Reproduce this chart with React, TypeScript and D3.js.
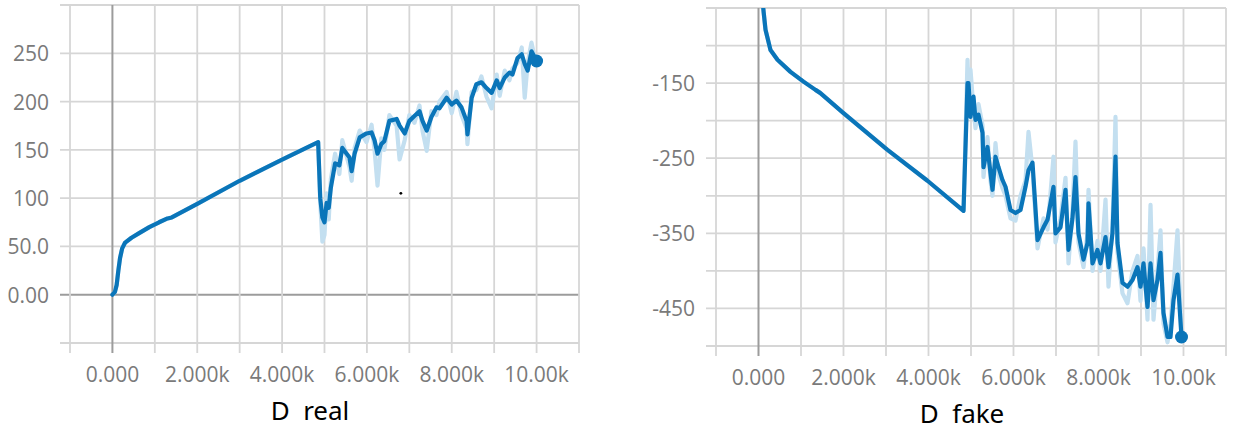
import React from "react";
import * as d3 from "d3";

// ---------- data ----------
const xTickValues = [0, 2000, 4000, 6000, 8000, 10000];
const xTickLabels = ["0.000", "2.000k", "4.000k", "6.000k", "8.000k", "10.00k"];

const realYTicks = [0, 50, 100, 150, 200, 250];
const realYLabels = ["0.00", "50.0", "100", "150", "200", "250"];
const fakeYTicks = [-150, -250, -350, -450];
const fakeYLabels = ["-150", "-250", "-350", "-450"];

const realSteps = [0, 60, 100, 140, 180, 230, 300, 450, 640, 870, 1100, 1300, 1400, 2000, 3000, 4000, 4850,
  4900, 4950, 5000, 5050, 5100, 5150, 5250, 5350, 5420, 5590,
  5640, 5710, 5830, 5990, 6110, 6180, 6250, 6340, 6410, 6530,
  6700, 6770, 6890, 7000, 7120, 7240, 7310, 7410, 7520, 7640,
  7710, 7880, 8000, 8110, 8230, 8350, 8370, 8470, 8580, 8700,
  8820, 8940, 9060, 9130, 9250, 9360, 9430, 9550, 9650, 9720,
  9790, 9880, 10000];
const realSmooth = [0, 3, 10, 25, 38, 48, 54, 59, 64, 70, 75, 79, 80, 94, 118, 140, 158,
  100, 80, 75, 95, 90, 111, 136, 134, 152, 142,
  128, 146, 163, 167, 168, 160, 146, 156, 159, 180,
  182, 175, 167, 180, 185, 190, 180, 170, 184, 194,
  193, 204, 197, 201, 194, 180, 166, 204, 218, 220,
  214, 209, 222, 214, 225, 230, 228, 245, 249, 239,
  232, 252, 242];
const realRaw = [0, 3, 10, 25, 38, 48, 54, 59, 64, 70, 75, 79, 80, 94, 118, 140, 158,
  95, 55, 62, 105, 78, 120, 146, 125, 160, 132,
  118, 152, 170, 158, 176, 150, 113, 162, 150, 186,
  175, 140, 160, 186, 178, 196, 170, 149, 190, 186,
  200, 210, 188, 210, 186, 172, 156, 210, 212, 226,
  205, 193, 228, 206, 232, 222, 234, 240, 256, 204,
  240, 261, 236];

const fakeSteps = [0, 80, 120, 165, 282, 447, 753, 1059, 1341, 1450, 2000, 3035, 3976, 4824,
  4918, 4941, 4988, 5059, 5106, 5176, 5271, 5294, 5388, 5459,
  5506, 5576, 5647, 5741, 5812, 5929, 6047, 6165, 6282, 6353,
  6447, 6565, 6706, 6800, 6941, 6988, 7106, 7224, 7294, 7388,
  7459, 7529, 7647, 7741, 7765, 7859, 7976, 8047, 8165, 8235,
  8329, 8400, 8447, 8565, 8682, 8800, 8918, 8988, 9059, 9153,
  9224, 9294, 9388, 9459, 9529, 9624, 9694, 9765, 9859, 9953];
const fakeSmooth = [10, -30, -55, -79, -106, -119, -135, -148, -159, -163, -190, -239, -280, -320,
  -150, -150, -195, -168, -199, -192, -216, -262, -235, -270,
  -292, -248, -262, -279, -288, -319, -323, -319, -288, -266,
  -256, -359, -342, -332, -288, -350, -342, -292, -372, -330,
  -275, -350, -385, -363, -310, -390, -372, -390, -355, -395,
  -350, -248, -363, -416, -421, -412, -395, -421, -390, -448,
  -390, -439, -412, -376, -456, -488, -488, -439, -405, -488];
const fakeRaw = [10, -30, -55, -79, -106, -119, -135, -148, -159, -163, -190, -239, -280, -320,
  -119, -160, -132, -185, -210, -178, -206, -275, -222, -280,
  -300, -230, -272, -290, -300, -330, -333, -300, -280, -215,
  -265, -370, -330, -345, -248, -362, -330, -276, -390, -320,
  -228, -362, -395, -350, -292, -400, -360, -400, -305, -421,
  -340, -195, -375, -430, -443, -400, -380, -440, -370, -465,
  -312, -465, -400, -346, -470, -495, -470, -420, -346, -490];

const strayDot = [6800, 105];

// ---------- chart ----------
const FONT = "'Open Sans', 'Noto Sans', sans-serif";
const GRID = "#d6d6d6";
const ZERO = "#9c9c9c";
const DARK = "#0a75b9";
const LIGHT = "#c3dff0";

type ChartProps = {
  id: string;
  x0: number;
  x1: number;
  yTop: number;
  yBottom: number;
  yDomain: [number, number];
  yTicks: number[];
  yLabels: string[];
  steps: number[];
  smooth: number[];
  raw: number[];
  title: string;
  titleX: number;
  dot?: number[];
};

function Chart(p: ChartProps) {
  const x = d3.scaleLinear().domain([-1000, 11000]).range([p.x0, p.x1]);
  const y = d3.scaleLinear().domain(p.yDomain).range([p.yBottom, p.yTop]);
  const xGrid = d3.range(-1000, 11001, 1000);
  const yGrid = d3.range(p.yDomain[0], p.yDomain[1] + 1, 50);
  const idx = d3.range(p.steps.length);
  const line = d3
    .line<number>()
    .x((i) => x(p.steps[i]))
    .y((i) => y(p.smooth[i]));
  const rawLine = d3
    .line<number>()
    .x((i) => x(p.steps[i]))
    .y((i) => y(p.raw[i]));
  const last = p.steps.length - 1;
  return (
    <g>
      <defs>
        <clipPath id={p.id}>
          <rect x={p.x0} y={p.yTop} width={p.x1 - p.x0 + 8} height={p.yBottom - p.yTop} />
        </clipPath>
      </defs>
      {yGrid.map((v) => (
        <line key={"h" + v} x1={p.x0 - 10} x2={p.x1} y1={y(v)} y2={y(v)}
          stroke={v === 0 ? ZERO : GRID} strokeWidth={v === 0 ? 2 : 1.8} />
      ))}
      {xGrid.map((v) => (
        <line key={"v" + v} x1={x(v)} x2={x(v)} y1={p.yTop} y2={p.yBottom + 10}
          stroke={v === 0 ? ZERO : GRID} strokeWidth={v === 0 ? 2 : 1.8} />
      ))}
      {p.yTicks.map((v, i) => (
        <text key={"yl" + v} x={p.x0 - 21} y={y(v) + 8} textAnchor="end"
          fontFamily={FONT} fontSize={21} fill="#7a7a7a">{p.yLabels[i]}</text>
      ))}
      {xTickValues.map((v, i) => (
        <text key={"xl" + v} x={x(v)} y={p.yBottom + 38.5} textAnchor="middle"
          fontFamily={FONT} fontSize={21} fill="#7a7a7a">{xTickLabels[i]}</text>
      ))}
      <g clipPath={`url(#${p.id})`}>
        <path d={rawLine(idx) || ""} fill="none" stroke={LIGHT} strokeWidth={4.2} strokeLinejoin="round" />
        <path d={line(idx) || ""} fill="none" stroke={DARK} strokeWidth={4.2} strokeLinejoin="round" strokeLinecap="round" />
      </g>
      <circle cx={x(p.steps[last])} cy={y(p.smooth[last])} r={6.5} fill={DARK} />
      {p.dot && <circle cx={x(p.dot[0])} cy={y(p.dot[1])} r={1.4} fill="#000" />}
      <text x={p.titleX} y={p.yBottom + 77} textAnchor="middle" fontFamily="'Noto Sans', 'Noto Sans CJK KR', sans-serif"
        fontSize={26} fill="#000">{p.title}</text>
    </g>
  );
}

export default function App() {
  return (
    <svg width={1243} height={434} style={{ position: "absolute", left: 0, top: 0, background: "#fff" }}>
      <rect width={1243} height={434} fill="#fff" />
      <Chart id="clipReal" x0={70} x1={579} yTop={5} yBottom={343} yDomain={[-50, 300]}
        yTicks={realYTicks} yLabels={realYLabels} steps={realSteps} smooth={realSmooth} raw={realRaw}
        title={"D\u00a0\u00a0real"} titleX={310} dot={strayDot} />
      <Chart id="clipFake" x0={716} x1={1226} yTop={8} yBottom={346} yDomain={[-500, -50]}
        yTicks={fakeYTicks} yLabels={fakeYLabels} steps={fakeSteps} smooth={fakeSmooth} raw={fakeRaw}
        title={"D\u00a0\u00a0fake"} titleX={962} />
    </svg>
  );
}
